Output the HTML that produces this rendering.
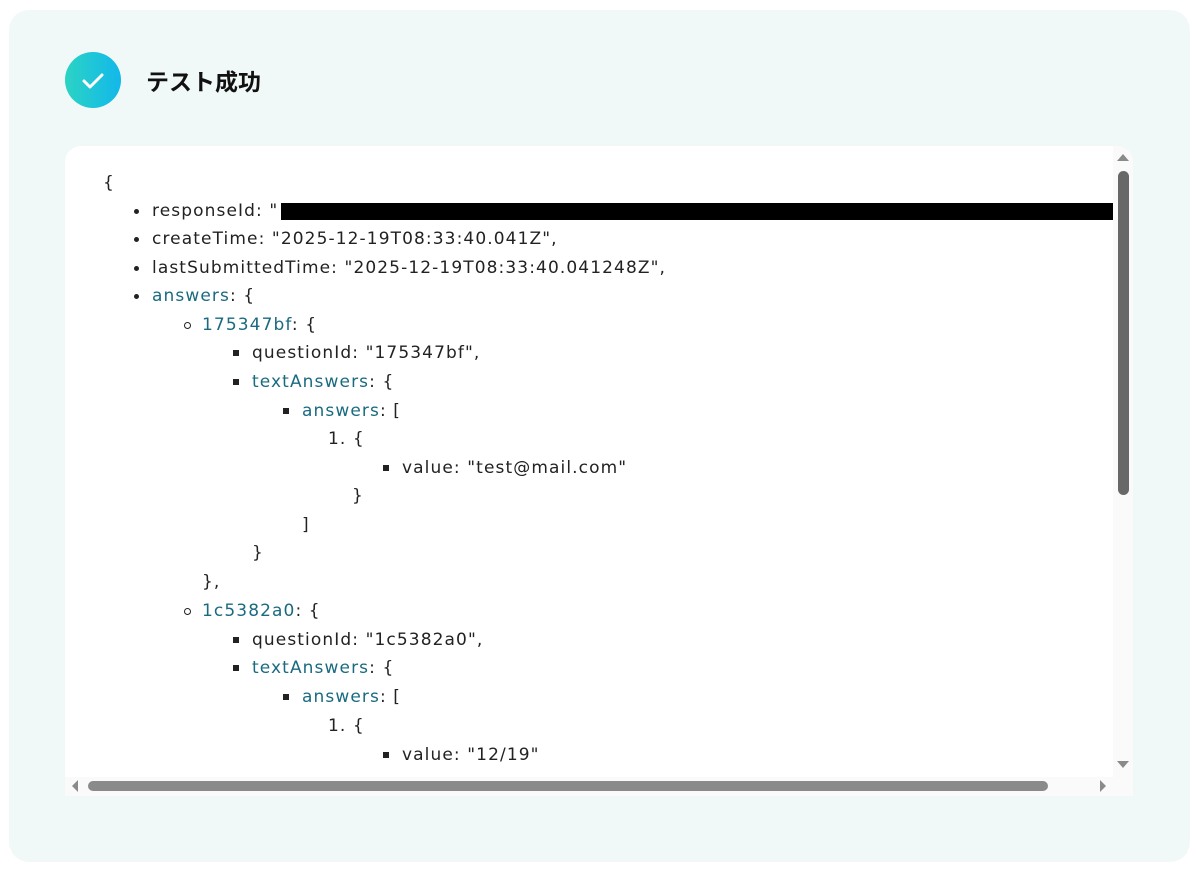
<!DOCTYPE html>
<html><head><meta charset="utf-8"><style>
body{margin:0;width:1197px;height:872px;background:#fff;position:relative;overflow:hidden;font-family:"Liberation Sans","Noto Sans CJK JP",sans-serif}
.panel{position:absolute;left:9px;top:10px;width:1181px;height:852px;background:#f1f9f8;border-radius:20px}
.icon{position:absolute;left:65px;top:52px;width:56px;height:56px;border-radius:50%;background:linear-gradient(90deg,#2bd3c4,#12b8ea)}
.title{position:absolute;left:146px;top:63px;font-size:23px;font-weight:bold;color:#111}
.box{position:absolute;left:65px;top:146px;width:1068px;height:650px;background:#fff;border-radius:16px 16px 0 0;overflow:hidden}
.l{position:absolute;font-family:"DejaVu Sans",sans-serif;font-size:17px;letter-spacing:1.1px;color:#222;white-space:nowrap;line-height:20px}
.k{color:#1a6a80}
.b{position:absolute;width:5px;height:5px;border-radius:50%;background:#222}
.c{position:absolute;border-radius:50%;border:1px solid #222;box-sizing:border-box;width:7px;height:7px}
.s{position:absolute;width:6px;height:6px;background:#222}
</style></head><body>
<div class="panel"></div>
<div class="icon"><svg width="56" height="56"><path d="M19 29 L25 35 L37 23" stroke="#fff" stroke-width="3" fill="none" stroke-linecap="round" stroke-linejoin="round"/></svg></div>
<div class="title">テスト成功</div>
<div class="box">
<div style="position:absolute;left:1048px;top:0;width:20px;height:650px;background:#fafafa"></div>
<div style="position:absolute;left:0;top:631px;width:1068px;height:19px;background:#fafafa"></div>
<div style="position:absolute;left:1053px;top:25px;width:11px;height:324px;background:#686868;border-radius:6px"></div>
<div style="position:absolute;left:23px;top:635px;width:960px;height:10px;background:#8a8a8a;border-radius:5px"></div>
<svg style="position:absolute;left:0;top:0" width="1068" height="650">
<polygon points="1052,15 1064,15 1058,8" fill="#8a8a8a"/>
<polygon points="1052,615 1064,615 1058,622" fill="#8a8a8a"/>
<polygon points="1035,634 1041,640 1035,646" fill="#8a8a8a"/>
<polygon points="7,640 13,634 13,646" fill="#8a8a8a"/>
</svg>
</div>
<div style="position:absolute;left:281px;top:203px;width:832px;height:17px;background:#000"></div>
<div class="l" style="left:103px;top:173px">{</div>
<div class="b" style="left:134px;top:209px"></div><div class="l" style="left:152px;top:201px">responseId: "</div>
<div class="b" style="left:134px;top:237px"></div><div class="l" style="left:152px;top:229px">createTime: "2025-12-19T08:33:40.041Z",</div>
<div class="b" style="left:134px;top:266px"></div><div class="l" style="left:152px;top:258px">lastSubmittedTime: "2025-12-19T08:33:40.041248Z",</div>
<div class="b" style="left:134px;top:294px"></div><div class="l" style="left:152px;top:286px"><span class="k">answers</span>: {</div>
<div class="c" style="left:184px;top:322px"></div><div class="l" style="left:202px;top:315px"><span class="k">175347bf</span>: {</div>
<div class="s" style="left:233px;top:350px"></div><div class="l" style="left:252px;top:343px">questionId: "175347bf",</div>
<div class="s" style="left:233px;top:379px"></div><div class="l" style="left:252px;top:372px"><span class="k">textAnswers</span>: {</div>
<div class="s" style="left:283px;top:408px"></div><div class="l" style="left:302px;top:401px"><span class="k">answers</span>: [</div>
<div class="l" style="left:328px;top:429px">1. {</div>
<div class="s" style="left:383px;top:465px"></div><div class="l" style="left:402px;top:458px">value: "test@mail.com"</div>
<div class="l" style="left:352px;top:486px">}</div>
<div class="l" style="left:302px;top:515px">]</div>
<div class="l" style="left:252px;top:543px">}</div>
<div class="l" style="left:202px;top:572px">},</div>
<div class="c" style="left:184px;top:608px"></div><div class="l" style="left:202px;top:601px"><span class="k">1c5382a0</span>: {</div>
<div class="s" style="left:233px;top:637px"></div><div class="l" style="left:252px;top:630px">questionId: "1c5382a0",</div>
<div class="s" style="left:233px;top:665px"></div><div class="l" style="left:252px;top:658px"><span class="k">textAnswers</span>: {</div>
<div class="s" style="left:283px;top:694px"></div><div class="l" style="left:302px;top:687px"><span class="k">answers</span>: [</div>
<div class="l" style="left:328px;top:716px">1. {</div>
<div class="s" style="left:383px;top:752px"></div><div class="l" style="left:402px;top:745px">value: "12/19"</div>
</body></html>
